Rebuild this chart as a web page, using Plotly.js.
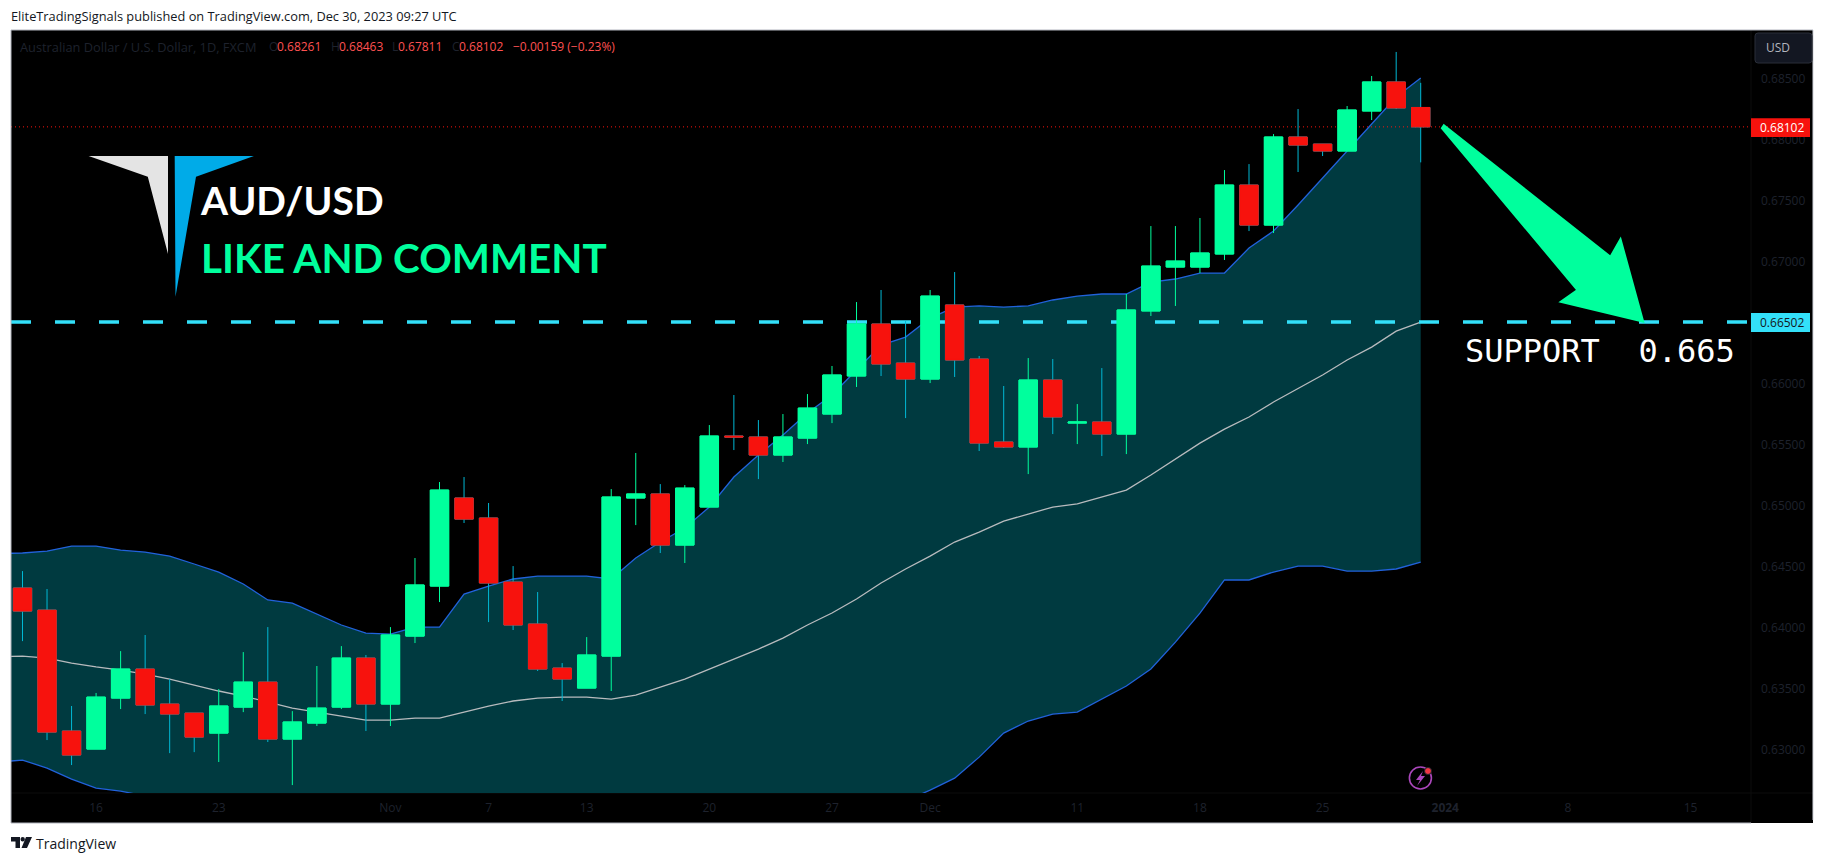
<!DOCTYPE html>
<html>
<head>
<meta charset="utf-8">
<script src="https://cdn.plot.ly/plotly-3.0.1.min.js"></script>
<style>html,body{margin:0;padding:0;background:#fff}#chart{width:1825px;height:863px}</style>
</head>
<body>
<div id="chart"></div>
<script>
// Daily AUD/USD candles, 11 Oct 2023 .. 29 Dec 2023 (one per trading day)
const candleOpen = [.64322,.64141,.63150,.63002,.63420,.63658,.63371,.63297,.63133,.63346,.63551,.63084,.63215,.63346,.63748,.63371,.63928,.64338,.65060,.64896,.64371,.64027,.63666,.63502,.63764,.65060,.65093,.64674,.64986,.65568,.65560,.65412,.65551,.65748,.66060,.66486,.66166,.66035,.66642,.66199,.65519,.65478,.66027,.65674,.65683,.65584,.66593,.66953,.66953,.67060,.67625,.67297,.68019,.67961,.67904,.68232,.68470,.68261];
const candleHigh = [.64461,.64314,.63355,.63462,.63805,.63937,.63576,.63297,.63494,.63797,.64002,.63313,.63683,.63846,.63773,.64002,.64568,.65191,.65232,.65019,.64502,.64289,.63707,.63920,.65133,.65429,.65174,.65166,.65658,.65904,.65699,.65748,.65912,.66142,.66666,.66765,.66511,.66765,.66912,.66224,.65978,.66207,.66199,.65830,.66125,.66732,.67289,.67289,.67355,.67748,.67797,.68043,.68248,.67961,.68273,.68519,.68716,.68463];
const candleLow = [.63887,.63076,.62871,.63002,.63330,.63289,.62969,.62977,.62896,.63305,.63060,.62707,.63191,.63330,.63150,.63191,.63871,.64207,.64855,.64043,.63978,.63642,.63396,.63502,.63478,.64838,.64609,.64527,.64986,.65453,.65215,.65355,.65502,.65674,.65970,.66060,.65715,.66002,.66052,.65445,.65470,.65256,.65584,.65502,.65404,.65420,.66552,.66634,.66904,.67011,.67248,.67232,.67732,.67863,.67904,.68158,.68248,.67811];
const candleClose = [.64133,.63141,.62953,.63428,.63658,.63363,.63289,.63100,.63355,.63551,.63084,.63224,.63338,.63748,.63371,.63937,.64347,.65125,.64887,.64363,.64019,.63658,.63576,.63773,.65068,.65093,.64674,.65141,.65568,.65560,.65412,.65560,.65797,.66068,.66486,.66158,.66035,.66715,.66191,.65510,.65478,.66027,.65724,.65683,.65584,.66601,.66961,.67002,.67068,.67625,.67297,.68019,.67953,.67904,.68240,.68470,.68257,.68102];

// Bollinger bands: one more point than the candles (the session before the first candle)
const bandUpper = [.64605,.64609,.64625,.64666,.64666,.64633,.64617,.64584,.64519,.64453,.64355,.64224,.64199,.64109,.64019,.63953,.63945,.64002,.64002,.64273,.64338,.64396,.64420,.64420,.64420,.64396,.64568,.64699,.64814,.64986,.65232,.65412,.65576,.65756,.65904,.66109,.66314,.66379,.66535,.66625,.66634,.66625,.66634,.66683,.66715,.66732,.66732,.66830,.66855,.66904,.66904,.67109,.67248,.67461,.67683,.67912,.68133,.68347,.68502];
const bandMiddle = [.63760,.63764,.63748,.63707,.63675,.63650,.63617,.63576,.63527,.63478,.63437,.63388,.63338,.63305,.63273,.63240,.63240,.63256,.63256,.63305,.63355,.63396,.63420,.63428,.63428,.63412,.63445,.63510,.63576,.63658,.63740,.63822,.63912,.64019,.64117,.64232,.64363,.64478,.64584,.64699,.64781,.64871,.64928,.64986,.65011,.65068,.65125,.65248,.65379,.65510,.65625,.65724,.65847,.65961,.66068,.66191,.66297,.66428,.66502];
const bandLower = [.62896,.62912,.62846,.62756,.62682,.62658,.62617,.62568,.62535,.62502,.62519,.62551,.62478,.62502,.62527,.62527,.62527,.62510,.62510,.62338,.62371,.62396,.62420,.62437,.62437,.62429,.62322,.62322,.62338,.62330,.62248,.62232,.62289,.62281,.62330,.62354,.62412,.62576,.62666,.62764,.62936,.63133,.63232,.63289,.63305,.63412,.63519,.63658,.63879,.64117,.64388,.64388,.64453,.64502,.64502,.64461,.64461,.64478,.64535];

const supportLevel = 0.66502;
const lastClose = 0.68102;

const priceTicks = [.63,.635,.64,.645,.65,.655,.66,.665,.67,.675,.68,.685];
const priceTickLabels = ['0.63000','0.63500','0.64000','0.64500','0.65000','0.65500','0.66000','','0.67000','0.67500','0.68000','0.68500'];
const timeTickSessions = [3,8,15,19,23,28,33,37,43,48,53,58,63,68];
const timeTickLabels = ['16','23','Nov','7','13','20','27','Dec','11','18','25','<b>2024</b>','8','15'];

const legendLabels = ['O','H','L','C'];
const legendValues = ['0.68261','0.68463','0.67811','0.68102'];
const legendChange = '\u22120.00159 (\u22120.23%)';

// ---- layout geometry (page pixels) ----
const L = 11, R = 1751, T = 30, B = 793;
const px = x => (x - L) / (R - L);
const py = y => (B - y) / (B - T);
const poly = pts => 'M' + pts.map(p => px(p[0]) + ',' + py(p[1])).join('L') + 'Z';
const rect = (x0, y0, x1, y1, fill, extra) => Object.assign({type:'rect', xref:'paper', yref:'paper', x0:px(x0), x1:px(x1), y0:py(y0), y1:py(y1), fillcolor:fill, line:{width:0}, layer:'above'}, extra || {});
const rule = (x0, y0, x1, y1, color, layer) => ({type:'line', xref:'paper', yref:'paper', x0:px(x0), x1:px(x1), y0:py(y0), y1:py(y1), line:{color:color, width:1}, layer:layer || 'above'});
const circle = (cx, cy, r, fill, lineColor, w) => ({type:'circle', xref:'paper', yref:'paper', x0:px(cx-r), x1:px(cx+r), y0:py(cy+r), y1:py(cy-r), fillcolor:fill, line:{color:lineColor, width:w}, layer:'above'});
const shapeFill = (pts, fill, line) => ({type:'path', xref:'paper', yref:'paper', path:poly(pts), fillcolor:fill, line: line || {width:0}, layer:'above'});

const stepPx = 24.53, firstPx = 22.5;
const xRange = [(L - firstPx) / stepPx, (R - firstPx) / stepPx];
const yRange = [0.62642, 0.68896];

const sessions = candleClose.map((_, i) => i);
const bandSessions = bandMiddle.map((_, i) => i - 1);
const edges = [xRange[0], xRange[1]];

const GREEN = '#00FF9D', RED = '#F7120D', WICK_RED = '#00B8D4', BLUE = '#2162DB', FILL = '#003A40', CYAN = '#33E0F9';
const AXIS_TEXT = '#1E222D';

const traces = [
  {type:'scatter', mode:'lines', x:bandSessions, y:bandLower, line:{color:BLUE, width:1.3}, hoverinfo:'skip'},
  {type:'scatter', mode:'lines', x:bandSessions, y:bandUpper, fill:'tonexty', fillcolor:FILL, line:{color:BLUE, width:1.3}, hoverinfo:'skip'},
  {type:'scatter', mode:'lines', x:bandSessions, y:bandMiddle, line:{color:'#B8BBBE', width:1.3}, hoverinfo:'skip'},
  {type:'scatter', mode:'lines', x:edges, y:[supportLevel, supportLevel], line:{color:CYAN, width:3.5, dash:'20px,24px'}, hoverinfo:'skip'},
  {type:'scatter', mode:'lines', x:edges, y:[lastClose, lastClose], line:{color:RED, width:1, dash:'1px,3px'}, hoverinfo:'skip'},
  // wicks (their bodies sit exactly under the body trace below)
  {type:'candlestick', xaxis:'x2', yaxis:'y2', x:sessions, open:candleOpen, high:candleHigh, low:candleLow, close:candleClose, whiskerwidth:0,
   increasing:{line:{color:GREEN, width:1}, fillcolor:GREEN}, decreasing:{line:{color:WICK_RED, width:1}, fillcolor:RED}, hoverinfo:'skip'},
  // bodies: same open/close with no wick
  {type:'candlestick', xaxis:'x2', yaxis:'y2', x:sessions, open:candleOpen, close:candleClose,
   high:candleOpen.map((o, i) => Math.max(o, candleClose[i])), low:candleOpen.map((o, i) => Math.min(o, candleClose[i])),
   whiskerwidth:0,
   increasing:{line:{color:GREEN, width:1}, fillcolor:GREEN}, decreasing:{line:{color:RED, width:1}, fillcolor:RED}, hoverinfo:'skip'}
];

const shapes = [
  // black panel behind the axes
  rect(L, T, 1813, 823, '#000000', {layer:'below'}),
  // frame
  rule(L, T, 1813, T, '#B2B5BE'),
  rule(L, T, L, 823, '#B2B5BE'),
  rule(L, 823, R, 823, '#B2B5BE'),
  rule(1813, T, 1813, 820, '#D1D4DC'),
  rule(R, T, R, 823, '#0D0D0D', 'below'),
  rule(L, B, 1813, B, '#0D0D0D', 'below'),
  // logo
  shapeFill([[88.6,156],[168,156],[168,254],[147.8,176.7]], '#E4E4E4'),
  shapeFill([[174.7,156],[253.9,156],[196,176.7],[175.5,296.7]], '#00ABE8'),
  // projection arrow
  shapeFill([[1443.9,125.3],[1610.5,256.7],[1620.5,239],[1643.2,321.7],[1560.7,301.7],[1577.4,290],[1441.9,128.3]], GREEN, {color:GREEN, width:2}),
  // price labels
  rect(R, 118.3, 1810, 137, RED),
  rect(R, 313, 1810, 332, CYAN),
  // currency button
  {type:'path', xref:'paper', yref:'paper', layer:'above', fillcolor:'#131722', line:{color:'#2A2E39', width:1},
   path:'M'+px(1758)+','+py(33)+'L'+px(1809)+','+py(33)+'Q'+px(1812)+','+py(33)+' '+px(1812)+','+py(36)+'L'+px(1812)+','+py(60)+'Q'+px(1812)+','+py(63)+' '+px(1809)+','+py(63)+'L'+px(1758)+','+py(63)+'Q'+px(1755)+','+py(63)+' '+px(1755)+','+py(60)+'L'+px(1755)+','+py(36)+'Q'+px(1755)+','+py(33)+' '+px(1758)+','+py(33)+'Z'},
  // flash badge
  circle(1420.4, 778, 11, 'rgba(0,0,0,0)', '#AB47BC', 1.6),
  shapeFill([[1423,771],[1416,780],[1420,780],[1417,786],[1425,776],[1421,776]], '#AB47BC'),
  circle(1428, 771, 3.5, '#F23645', '#1E222D', 1),
  // TradingView mark
  shapeFill([[11,837],[20,837],[20,848],[15.5,848],[15.5,841.5],[11,841.5]], '#131722'),
  circle(22.7, 839.2, 2.2, '#131722', '#131722', 0),
  shapeFill([[26,837],[32,837],[27,848],[21.5,848]], '#131722')
];

const note = (x, y, text, size, color, family, extra) => Object.assign({xref:'paper', yref:'paper', x:px(x), y:py(y), text:text, showarrow:false, xanchor:'left', yanchor:'middle', align:'left', font:{family:family, size:size, color:color}, borderpad:0, borderwidth:0}, extra || {});
const UI = '"Open Sans", sans-serif';
const DIM = '#1E222D', LEG_RED = '#FF5252';

const labelX = [268.5, 330.6, 392, 452];
const valueX = [276.7, 339, 398, 459];

const annotations = [
  note(11, 16.5, 'EliteTradingSignals published on TradingView.com, Dec 30, 2023 09:27 UTC', 12.8, '#131722', UI),
  note(20, 46.7, 'Australian Dollar / U.S. Dollar, 1D, FXCM', 12.8, DIM, UI),
  note(512.6, 46.7, legendChange, 12, LEG_RED, UI),
  note(200, 199.5, '<b>AUD/USD</b>', 39, '#FFFFFF', 'Lato, sans-serif'),
  note(201, 257.5, '<b>LIKE AND COMMENT</b>', 40.4, GREEN, 'Lato, sans-serif'),
  note(1465, 350.5, 'SUPPORT\u00A0\u00A00.665', 32, '#FFFFFF', '"DejaVu Sans Mono", monospace'),
  note(1766, 48, 'USD', 12, '#B2B5BE', UI),
  note(1760, 127.5, '0.68102', 12, '#FFFFFF', UI),
  note(1760, 322.5, '0.66502', 12, '#131722', UI),
  note(36, 844, 'TradingView', 14, '#131722', UI)
].concat(legendLabels.map((t, i) => note(labelX[i], 46.7, t, 12, DIM, UI)))
 .concat(legendValues.map((t, i) => note(valueX[i], 46.7, t, 12, LEG_RED, UI)));

const layout = {
  width:1825, height:863, autosize:false,
  margin:{l:L, r:1825-R, t:T, b:863-B, pad:0},
  paper_bgcolor:'#FFFFFF', plot_bgcolor:'rgba(0,0,0,0)',
  showlegend:false, hovermode:false, dragmode:false,
  boxmode:'overlay', boxgap:0.25, boxgroupgap:0,
  xaxis:{range:xRange, tickmode:'array', tickvals:timeTickSessions, ticktext:timeTickLabels, showgrid:false, zeroline:false, showline:false, ticks:'', ticklabelstandoff:6, tickangle:0,
         tickfont:{family:UI, size:12, color:AXIS_TEXT}, fixedrange:true, rangeslider:{visible:false}},
  yaxis:{range:yRange, side:'right', tickmode:'array', tickvals:priceTicks, ticktext:priceTickLabels, showgrid:false, zeroline:false, showline:false, ticks:'', ticklabelstandoff:9,
         tickfont:{family:UI, size:12, color:AXIS_TEXT}, fixedrange:true},
  xaxis2:{range:xRange, overlaying:'x', anchor:'y2', visible:false, fixedrange:true, rangeslider:{visible:false}},
  yaxis2:{range:yRange, overlaying:'y', anchor:'x2', side:'right', visible:false, fixedrange:true},
  shapes:shapes, annotations:annotations
};

Plotly.newPlot('chart', traces, layout, {staticPlot:true, displayModeBar:false});
</script>
</body>
</html>
